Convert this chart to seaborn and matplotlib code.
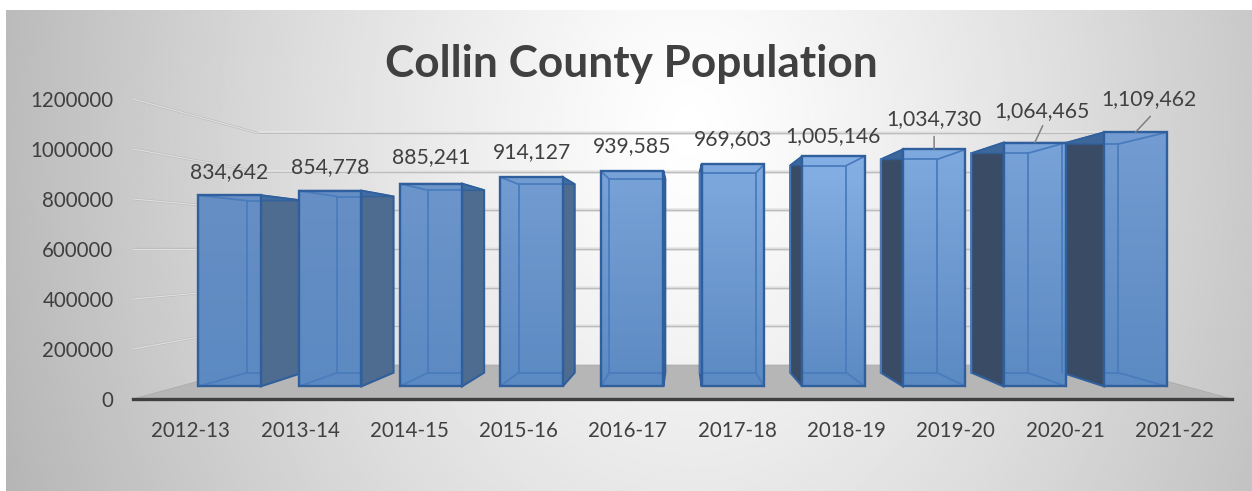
import numpy as np
import pandas as pd
import matplotlib
matplotlib.use('Agg')
import matplotlib.pyplot as plt
from matplotlib.patches import Polygon
import seaborn as sns

years = ['2012-13', '2013-14', '2014-15', '2015-16', '2016-17',
         '2017-18', '2018-19', '2019-20', '2020-21', '2021-22']
population = [834642, 854778, 885241, 914127, 939585,
              969603, 1005146, 1034730, 1064465, 1109462]
y_ticks = [0, 200000, 400000, 600000, 800000, 1000000, 1200000]

W, H = 1252, 491
sns.set_style('white')
plt.rcParams['font.family'] = ['Lato', 'DejaVu Sans']
TXT = '#404040'

# fake perspective: every depth plane is a scaling about the vanishing point
EYE = 600000
XC = 4.5
K_OUT = 1.092    # front edge of the floor, where the ticks live
K_BACK = 0.90    # back face of a bar
K_WALL = 0.8445  # back wall


def proj(x, v, k):
    return XC + (x - XC) * k, EYE + (v - EYE) * k


fig = plt.figure(figsize=(W / 100, H / 100), dpi=100, facecolor='white')

# chart area gradient
bg = fig.add_axes([6 / W, 0, 1 - 6 / W, 1 - 10 / H], zorder=0)
gx, gy = np.meshgrid(np.linspace(6, 1252, 400), np.linspace(10, 491, 200))
dist = np.sqrt(((gx - 690) / 760) ** 2 + ((gy - 130) / 1000) ** 2)
bg.imshow(np.clip(1.0 - 0.30 * dist ** 1.2, 0, 1), cmap='gray', vmin=0, vmax=1,
          aspect='auto', interpolation='bilinear')
bg.axis('off')

ax = fig.add_axes([133 / W, 1 - 399 / H, (1232 - 133) / W, 300 / H], zorder=1)
ax.patch.set_alpha(0)

df = pd.DataFrame({'year': years, 'population': population})
sns.barplot(data=df, x='year', y='population', color='#6a95cc', saturation=1,
            width=0.62, edgecolor='#2f5f9c', linewidth=1.7, ax=ax, zorder=5)

xlim = proj(np.array([-0.5, 9.5]), 0, K_OUT)[0]
ylim = [proj(0, 0, K_OUT)[1], proj(0, 1200000, K_OUT)[1]]
x0, x1 = XC - 5 * K_OUT, XC + 5 * K_OUT
w0, w1 = XC - 5 * K_WALL, XC + 5 * K_WALL

# floor
floor = [proj(-0.5, 0, K_OUT), proj(9.5, 0, K_OUT), proj(9.5, 0, K_WALL), proj(-0.5, 0, K_WALL)]
ax.add_patch(Polygon(floor, closed=True, fc='#b6b6b6', ec='#a8a8a8', lw=0.5, zorder=1))

# wall gridlines
for v in y_ticks[1:]:
    yb = proj(0, v, K_WALL)[1]
    yo = proj(0, v, K_OUT)[1]
    ax.plot([w0, w1], [yb, yb], color='#e6e6e6', lw=2.6, zorder=1, solid_capstyle='butt')
    ax.plot([w0, w1], [yb, yb], color='#bdbdbd', lw=1.0, zorder=1.1, solid_capstyle='butt')
    ax.plot([x0, w0], [yo, yb], color='#bcbcbc', lw=1.7, zorder=1)
    ax.plot([x0, w0], [yo, yb], color='#e0e0e0', lw=0.8, zorder=1.1)

# bar sides, then the front faces on top
for i, (bar, v) in enumerate(zip(ax.patches, population)):
    left, right = bar.get_x(), bar.get_x() + bar.get_width()
    edge = right if bar.get_x() + bar.get_width() / 2 < XC else left
    col = '#4d6c8f' if edge == right else '#3a4c65'
    side = [proj(edge, 0, 1), proj(edge, v, 1), proj(edge, v, K_BACK), proj(edge, 0, K_BACK)]
    ax.add_patch(Polygon(side, closed=True, fc=col, ec='#2f5f9c', lw=1.5, zorder=3))
    other = left if edge == right else right
    top = [proj(edge, v, 1), proj(other, v, 1), proj(other, v, K_BACK), proj(edge, v, K_BACK)]
    ax.add_patch(Polygon(top, closed=True, fc='#3f6ea8', ec='#2f5f9c', lw=1.2, alpha=0.8, zorder=3))

    # shading of the front face and the see-through back edges
    g = np.linspace(0, 1, 40).reshape(-1, 1)
    light = np.clip(1 - abs(i - 6) / 5, 0, 1)
    c0 = np.array([0.36, 0.54, 0.76])
    c1 = np.array([0.40, 0.56, 0.77]) + light * np.array([0.12, 0.13, 0.13])
    im = ax.imshow((c1 + (c0 - c1) * g).reshape(40, 1, 3), extent=[left, right, 0, v],
                   aspect='auto', zorder=5.2)
    im.set_clip_path(bar)
    bar.set_zorder(5.3)
    bar.set_facecolor('none')
    inner = '#4a7cbd'
    bl, bb = proj(left, 0, K_BACK)
    br, bt = proj(right, v, K_BACK)
    kw = dict(color=inner, lw=1.3, zorder=5.25)
    if bl < right:
        ax.plot([bl, bl], [bb, bt], **kw)
    if br < right:
        ax.plot([br, br], [bb, bt], **kw)
    ax.plot([max(bl, left), min(br, right)], [bb, bb], **kw)
    ax.plot([max(bl, left), min(br, right)], [bt, bt], **kw)
    ax.plot([left, max(bl, left)], [0, bb], **kw)
    ax.plot([right, min(br, right)], [0, bb], **kw)
    ax.plot([left, max(bl, left)], [v, bt], **kw)
    ax.plot([right, min(br, right)], [v, bt], **kw)

# data labels, offsets in pixels above the bar top
offset_x = [0, 0, 0, 0, 0, 0, 0, 0, 7, 14]
offset_y = [23, 24, 27, 25, 25, 25, 20, 30, 32, 33]
for i, v in enumerate(population):
    ax.annotate(f'{v:,}', xy=(i, v), xytext=(offset_x[i], offset_y[i]), textcoords='offset pixels',
                ha='center', va='center', fontsize=15.2, color=TXT, zorder=8)
leader = {7: (0, 13), 8: (8, 17), 9: (15, 16)}
for i, (dx, dy) in leader.items():
    ax.annotate('', xy=(i, population[i]), xytext=(dx, dy), textcoords='offset pixels', zorder=8,
                arrowprops=dict(arrowstyle='-', color='#7f7f7f', lw=1.1, shrinkA=0, shrinkB=0))

ax.set_xlim(*xlim)
ax.set_ylim(*ylim)
ax.set_xticks(proj(np.arange(10), 0, 1.086)[0], years)
ax.set_yticks(proj(0, np.array(y_ticks), K_OUT)[1], [str(t) for t in y_ticks])
ax.tick_params(axis='both', length=0, labelsize=14.8, labelcolor=TXT)
ax.tick_params(axis='x', pad=16)
ax.tick_params(axis='y', pad=14)
ax.set_xlabel('')
ax.set_ylabel('')
for s in ['top', 'left', 'right']:
    ax.spines[s].set_visible(False)
ax.spines['bottom'].set_color('#3f3f3f')
ax.spines['bottom'].set_linewidth(2.4)

fig.text(631 / W, 1 - 64 / H, 'Collin County Population', ha='center', va='center',
         fontsize=31.8, fontweight='bold', color=TXT)

fig.savefig('out.png', dpi=100)
plt.close()
